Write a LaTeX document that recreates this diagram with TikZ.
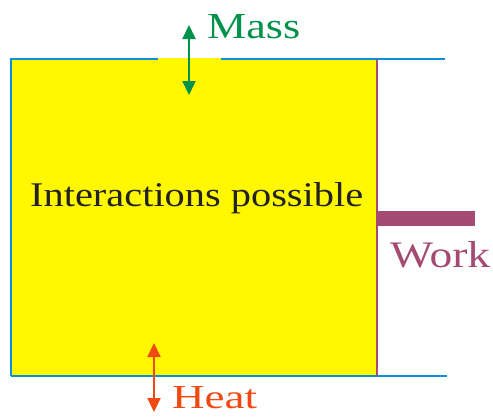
\documentclass[tikz,border=0pt]{standalone}
\usepackage{fontspec}
\setmainfont{Liberation Serif}
\usetikzlibrary{arrows.meta}
\definecolor{sysyellow}{HTML}{FFF800}
\definecolor{bndblue}{HTML}{0A8FD8}
\definecolor{workpurple}{HTML}{A54A72}
\definecolor{massgreen}{HTML}{00914A}
\definecolor{heatorange}{HTML}{F04A12}
\definecolor{txtblack}{HTML}{222222}
\tikzset{
  bnd/.style={draw=bndblue, line width=2pt},
  flow/.style={line width=2pt, {Triangle[length=14pt,width=13pt]}-{Triangle[length=14pt,width=13pt]}},
  lbl/.style={anchor=base west, inner sep=0pt, font=\fontsize{35}{40}\selectfont}
}
\begin{document}
\begin{tikzpicture}[x=1pt,y=-1pt]
\useasboundingbox (0,0) rectangle (493,416);
% system
\fill[sysyellow] (11,58) rectangle (377,376);
\draw[bnd] (11,376) -- (11,59) -- (158,59);
\draw[bnd] (221,59) -- (445,59);
\draw[bnd] (11,376) -- (447,376);
\draw[workpurple, line width=2pt] (377,59) -- (377,376);
\fill[workpurple] (377,211) rectangle (475,226);
% texts
\node[lbl, text=txtblack] (inter) at (30,206) {\resizebox{333pt}{24pt}{Interactions possible}};
\node[lbl, text=massgreen] (mass) at (207,38) {\resizebox{93pt}{24pt}{Mass}};
\node[lbl, text=heatorange] (heat) at (172,408) {\resizebox{85pt}{22pt}{Heat}};
\node[lbl, text=workpurple] (work) at (390,267) {\resizebox{100pt}{26pt}{Work}};
% arrows
\coordinate (m1) at (189,25);
\coordinate (m2) at (189,95);
\coordinate (h1) at (154,343);
\coordinate (h2) at (154,412);
\draw[flow, massgreen] (m1) -- (m2);
\draw[flow, heatorange] (h1) -- (h2);
\end{tikzpicture}
\end{document}
